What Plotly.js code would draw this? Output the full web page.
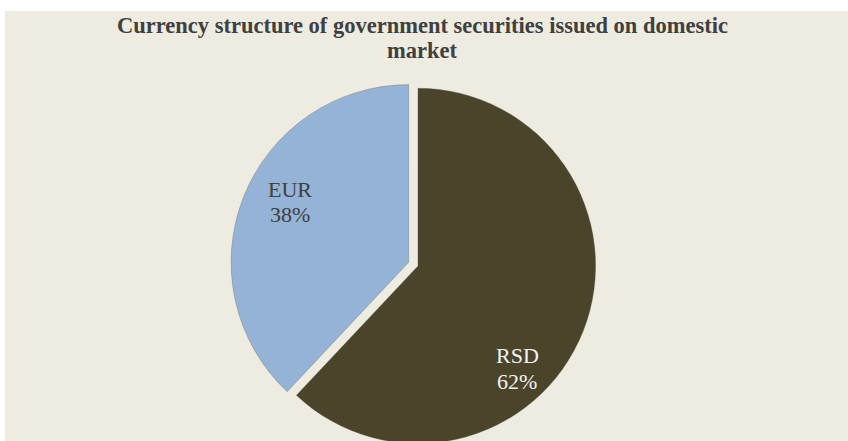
<!DOCTYPE html>
<html>
<head>
<meta charset="utf-8">
<script src="https://cdn.plot.ly/plotly-3.0.1.min.js"></script>
<style>
html,body{margin:0;padding:0;overflow:hidden;background:#ffffff;}
#chart{width:848px;height:460px;}
</style>
</head>
<body>
<div id="chart"></div>
<script>
// Data
const labels = ['RSD', 'EUR'];
const values = [62, 38];
const sliceColors = ['#4A452A', '#95B3D7'];
const pulls = [0, 0.056];
const titleLines = ['Currency structure of government securities issued on domestic', 'market'];

const W = 848, H = 460;
const total = values.reduce((a, b) => a + b, 0);
// label centre positions (px from top-left): [x, name line y, percent line y]
const labelPos = [[517, 355, 381], [290, 190, 215]];
const labelColors = ['#F2F2F2', '#404040'];
const titleLineY = [25, 50];
const serif = 'Liberation Serif, Times New Roman, serif';

const trace = {
  type: 'pie',
  labels: labels,
  values: values,
  sort: false,
  direction: 'clockwise',
  rotation: 0,
  pull: pulls,
  marker: {colors: sliceColors, line: {width: 1, color: 'rgba(90,90,80,0.3)'}},
  textinfo: 'none',
  hoverinfo: 'label+percent',
  showlegend: false,
  domain: {x: [0.2717, 0.7141], y: [0.014, 0.830]}
};

const annotations = [];
labels.forEach((lab, i) => {
  annotations.push({
    xref: 'paper', yref: 'paper',
    x: labelPos[i][0] / W, y: (H - labelPos[i][1]) / H,
    xanchor: 'center', yanchor: 'middle', showarrow: false,
    text: lab,
    font: {family: serif, size: 22, color: labelColors[i]}
  });
  annotations.push({
    xref: 'paper', yref: 'paper',
    x: labelPos[i][0] / W, y: (H - labelPos[i][2]) / H,
    xanchor: 'center', yanchor: 'middle', showarrow: false,
    text: Math.round(values[i] / total * 100) + '%',
    font: {family: serif, size: 22, color: labelColors[i]}
  });
});
titleLines.forEach((t, i) => {
  annotations.push({
    xref: 'paper', yref: 'paper',
    x: 422 / W, y: (H - titleLineY[i]) / H,
    xanchor: 'center', yanchor: 'middle', showarrow: false,
    text: '<b>' + t + '</b>',
    font: {family: serif, size: 22.5, color: '#404040'}
  });
});

const layout = {
  width: W, height: H,
  margin: {l: 0, r: 0, t: 0, b: 0},
  paper_bgcolor: '#ffffff',
  shapes: [{
    type: 'rect', xref: 'paper', yref: 'paper', layer: 'below',
    x0: 5 / W, x1: 1, y0: 0, y1: (H - 11) / H,
    fillcolor: '#EEECE1', line: {width: 0}
  }],
  annotations: annotations
};

Plotly.newPlot('chart', [trace], layout, {displayModeBar: false, staticPlot: true});
</script>
</body>
</html>
